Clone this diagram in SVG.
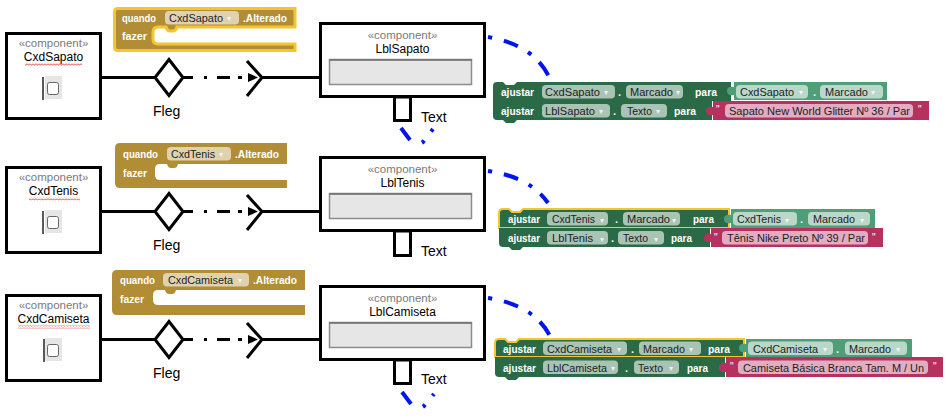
<svg xmlns="http://www.w3.org/2000/svg" width="946" height="418" viewBox="0 0 946 418">
<style>
.box{fill:#fff;stroke:#000;stroke-width:3}
.st{font-family:"Liberation Sans",Arial,sans-serif;font-size:11.5px;fill:#7a7a7a;text-anchor:middle}
.nm{font-family:"Liberation Sans",Arial,sans-serif;font-size:12px;fill:#000;text-anchor:middle}
.lbl{font-family:"Liberation Sans",Arial,sans-serif;font-size:14px;fill:#000}
.tb{fill:#e6e6e6;stroke:#8c8c8c;stroke-width:1.5}
.cbg{fill:#e6e6e6}
.cb{fill:#fff;stroke:#666;stroke-width:1}
.ln{stroke:#000;stroke-width:3;fill:none}
.dd{stroke:#000;stroke-width:3;fill:none;stroke-dasharray:10 11 3 10 13 8 4 6}
.blue{stroke:#0014f0;stroke-width:4;fill:none}
.bw{font-family:"Liberation Sans",Arial,sans-serif;font-weight:bold;font-size:11px;fill:#fff}
.pt{font-family:"Liberation Sans",Arial,sans-serif;font-size:11px;fill:#1e1e1e}
.ar{font-family:"DejaVu Sans",sans-serif;font-size:8px;fill:#fff;fill-opacity:.8}
.q{font-family:"Liberation Sans",Arial,sans-serif;font-size:10px;fill:#fff}
.brown{fill:#b18e35}
.dg{fill:#2b6a47}
.lg{fill:#4f9e78}
.pk{fill:#b5325f}
.sel{stroke:#f5c531;stroke-width:2}
.pdg{fill:#a9c3b5}
.plg{fill:#b9d8c9}
.ppk{fill:#e2adc0}
.pbr{fill:#e0d2ae}
</style>
<defs>
<pattern id="sq" width="3" height="3" patternUnits="userSpaceOnUse">
<path d="M0,0.5 L1.5,2.3 L3,0.5" fill="none" stroke="#e02020" stroke-width="0.8"/>
</pattern>
</defs>
<rect width="946" height="418" fill="#fff"/>

<!-- ===== Section 1 ===== -->
<g id="evtSapato">
<path class="brown" d="M118,8.5 H295 V27 H177 C176,30 175,31 173,31 H170 C168,31 167,30 166,27 H158 Q153,27 153,32 V39 Q153,44 158,44 H295 V50.5 H118 Q114.5,50.5 114.5,47 V12 Q114.5,8.5 118,8.5 Z" stroke="#f5c531" stroke-width="3"/>
<text class="bw" x="122" y="21.5" textLength="34" lengthAdjust="spacingAndGlyphs">quando</text>
<rect class="pbr" x="165" y="11" width="74" height="13.5" rx="4"/>
<text class="pt" x="169" y="21.5" textLength="54" lengthAdjust="spacingAndGlyphs">CxdSapato</text>
<text class="ar" x="227" y="21">▾</text>
<text class="bw" x="243" y="21.5" textLength="44" lengthAdjust="spacingAndGlyphs">.Alterado</text>
<text class="bw" x="122" y="40" textLength="25" lengthAdjust="spacingAndGlyphs">fazer</text>
</g>

<g id="CxdSapato">
<rect class="box" x="6.5" y="33.5" width="94" height="85"/>
<text class="st" x="53.5" y="47">«component»</text>
<text class="nm" x="53.5" y="61">CxdSapato</text>
<rect x="25" y="63" width="57" height="3" fill="url(#sq)"/>
<rect class="cbg" x="45" y="76" width="17" height="23"/>
<line x1="43" y1="77" x2="43" y2="100" stroke="#000" stroke-width="1.3"/>
<rect class="cb" x="47.5" y="82.5" width="11" height="12" rx="2"/>
</g>

<g id="LblSapato">
<rect class="box" x="394.5" y="97" width="16" height="23.5"/>
<rect class="box" x="320.5" y="23.5" width="164" height="73"/>
<text class="st" x="402.5" y="39">«component»</text>
<text class="nm" x="402.5" y="53">LblSapato</text>
<rect class="tb" x="329.5" y="59.5" width="142" height="25"/>
<line x1="329.5" y1="60" x2="471.5" y2="60" stroke="#6e6e6e" stroke-width="1.5"/>
<text class="lbl" x="421" y="122">Text</text>
</g>

<g id="setSapato">
<path class="dg" d="M497,82 H503 L506,85 H514 L517,82 H731 V101 H493 V86 Q493,82 497,82 Z"/>
<path class="dg" d="M493,101 H712 V120 H517 L514,123 H506 L503,120 H497 Q493,120 493,116 Z"/>
<path class="lg" d="M734,82 H887 V100 H734 V95 C729,96 727,94 727,91 C727,88 729,86 734,87 Z"/>
<path class="pk" d="M713,101 H929 V120 H713 V115 C708,116 706,114 706,111 C706,108 708,106 713,107 Z"/>
<text class="bw" x="501" y="95.5" textLength="33" lengthAdjust="spacingAndGlyphs">ajustar</text>
<rect class="pdg" x="542" y="85" width="73" height="13.5" rx="4"/>
<text class="pt" x="545" y="95.5" textLength="55" lengthAdjust="spacingAndGlyphs">CxdSapato</text>
<text class="ar" x="604" y="95">▾</text>
<text class="bw" x="618" y="95.5">.</text>
<rect class="pdg" x="626" y="85" width="57" height="13.5" rx="4"/>
<text class="pt" x="630" y="95.5" textLength="43" lengthAdjust="spacingAndGlyphs">Marcado</text>
<text class="ar" x="676" y="95">▾</text>
<text class="bw" x="695" y="95.5" textLength="22" lengthAdjust="spacingAndGlyphs">para</text>
<rect class="plg" x="736" y="85" width="72" height="13.5" rx="4"/>
<text class="pt" x="740" y="95.5" textLength="54" lengthAdjust="spacingAndGlyphs">CxdSapato</text>
<text class="ar" x="799" y="95">▾</text>
<text class="bw" x="813" y="95.5">.</text>
<rect class="plg" x="820" y="85" width="63" height="13.5" rx="4"/>
<text class="pt" x="825" y="95.5" textLength="43" lengthAdjust="spacingAndGlyphs">Marcado</text>
<text class="ar" x="871" y="95">▾</text>
<text class="bw" x="501" y="114.5" textLength="33" lengthAdjust="spacingAndGlyphs">ajustar</text>
<rect class="pdg" x="542" y="104" width="68" height="13.5" rx="4"/>
<text class="pt" x="545" y="114.5" textLength="50" lengthAdjust="spacingAndGlyphs">LblSapato</text>
<text class="ar" x="599" y="114">▾</text>
<text class="bw" x="613" y="114.5">.</text>
<rect class="pdg" x="621" y="104" width="46" height="13.5" rx="4"/>
<text class="pt" x="627" y="114.5" textLength="25" lengthAdjust="spacingAndGlyphs">Texto</text>
<text class="ar" x="656" y="114">▾</text>
<text class="bw" x="674" y="114.5" textLength="22" lengthAdjust="spacingAndGlyphs">para</text>
<text class="q" x="716" y="113">"</text>
<rect class="ppk" x="725" y="104" width="188" height="13.5" rx="4"/>
<text class="pt" x="729" y="114.5" textLength="181" lengthAdjust="spacingAndGlyphs">Sapato New World Glitter Nº 36 / Par</text>
<text class="q" x="918" y="113">"</text>
</g>

<!-- ===== Section 2 ===== -->
<g id="evtTenis">
<path class="brown" d="M120,143 H287 V164 H178 C177,167 176,168 174,168 H171 C169,168 168,167 167,164 H160 Q155,164 155,169 V175 Q155,180 160,180 H287 V188 H120 Q115,188 115,183 V148 Q115,143 120,143 Z"/>
<text class="bw" x="123" y="157.5" textLength="35" lengthAdjust="spacingAndGlyphs">quando</text>
<rect class="pbr" x="167" y="147" width="64" height="13.5" rx="4"/>
<text class="pt" x="171" y="157.5" textLength="44" lengthAdjust="spacingAndGlyphs">CxdTenis</text>
<text class="ar" x="219" y="157">▾</text>
<text class="bw" x="235" y="157.5" textLength="44" lengthAdjust="spacingAndGlyphs">.Alterado</text>
<text class="bw" x="123" y="176.5" textLength="24" lengthAdjust="spacingAndGlyphs">fazer</text>
</g>

<g id="CxdTenis">
<rect class="box" x="6.5" y="167.5" width="94" height="85"/>
<text class="st" x="53.5" y="181">«component»</text>
<text class="nm" x="53.5" y="195">CxdTenis</text>
<rect x="29" y="197.5" width="51" height="3" fill="url(#sq)"/>
<rect class="cbg" x="45" y="210" width="17" height="23"/>
<line x1="43" y1="211" x2="43" y2="234" stroke="#000" stroke-width="1.3"/>
<rect class="cb" x="47.5" y="216.5" width="11" height="12" rx="2"/>
</g>

<g id="LblTenis">
<rect class="box" x="394.5" y="231" width="16" height="24.5"/>
<rect class="box" x="320.5" y="157.5" width="164" height="73"/>
<text class="st" x="402.5" y="173">«component»</text>
<text class="nm" x="402.5" y="187">LblTenis</text>
<rect class="tb" x="329.5" y="193.5" width="142" height="25"/>
<line x1="329.5" y1="194" x2="471.5" y2="194" stroke="#6e6e6e" stroke-width="1.5"/>
<text class="lbl" x="421" y="256">Text</text>
</g>

<g id="setTenis">
<path class="dg sel" d="M503,209 H509 L512,212 H520 L523,209 H729 V228 H499 V213 Q499,209 503,209 Z"/>
<path class="dg" d="M499,228 H710 V247 H523 L520,250 H512 L509,247 H503 Q499,247 499,243 Z"/>
<path class="lg" d="M731,209 H875 V228 H731 V223 C726,224 724,222 724,219 C724,216 726,214 731,215 Z"/>
<path class="pk" d="M711,228 H883 V247 H711 V242 C706,243 704,241 704,238 C704,235 706,233 711,234 Z"/>
<text class="bw" x="508" y="223" textLength="32" lengthAdjust="spacingAndGlyphs">ajustar</text>
<rect class="pdg" x="547" y="212" width="61" height="13.5" rx="4"/>
<text class="pt" x="552" y="223" textLength="43" lengthAdjust="spacingAndGlyphs">CxdTenis</text>
<text class="ar" x="600" y="222.5">▾</text>
<text class="bw" x="615" y="223">.</text>
<rect class="pdg" x="623" y="212" width="57" height="13.5" rx="4"/>
<text class="pt" x="627" y="223" textLength="43" lengthAdjust="spacingAndGlyphs">Marcado</text>
<text class="ar" x="672" y="222.5">▾</text>
<text class="bw" x="693" y="223" textLength="21" lengthAdjust="spacingAndGlyphs">para</text>
<rect class="plg" x="733" y="212" width="64" height="13.5" rx="4"/>
<text class="pt" x="737" y="223" textLength="44" lengthAdjust="spacingAndGlyphs">CxdTenis</text>
<text class="ar" x="785" y="222.5">▾</text>
<text class="bw" x="800" y="223">.</text>
<rect class="plg" x="808" y="212" width="62" height="13.5" rx="4"/>
<text class="pt" x="813" y="223" textLength="42" lengthAdjust="spacingAndGlyphs">Marcado</text>
<text class="ar" x="860" y="222.5">▾</text>
<text class="bw" x="508" y="242" textLength="32" lengthAdjust="spacingAndGlyphs">ajustar</text>
<rect class="pdg" x="547" y="231" width="61" height="13.5" rx="4"/>
<text class="pt" x="552" y="242" textLength="41" lengthAdjust="spacingAndGlyphs">LblTenis</text>
<text class="ar" x="600" y="241.5">▾</text>
<text class="bw" x="611" y="242">.</text>
<rect class="pdg" x="618" y="231" width="46" height="13.5" rx="4"/>
<text class="pt" x="623" y="242" textLength="25" lengthAdjust="spacingAndGlyphs">Texto</text>
<text class="ar" x="654" y="241.5">▾</text>
<text class="bw" x="671" y="242" textLength="21" lengthAdjust="spacingAndGlyphs">para</text>
<text class="q" x="714" y="241">"</text>
<rect class="ppk" x="722" y="231" width="146" height="13.5" rx="4"/>
<text class="pt" x="727" y="242" textLength="138" lengthAdjust="spacingAndGlyphs">Tênis Nike Preto Nº 39 / Par</text>
<text class="q" x="872" y="241">"</text>
</g>

<!-- ===== Section 3 ===== -->
<g id="evtCamiseta">
<path class="brown" d="M117,270 H305 V290 H176 C175,293 174,294 172,294 H169 C167,294 166,293 165,290 H158 Q153,290 153,295 V300 Q153,305 158,305 H305 V315 H117 Q112,315 112,310 V275 Q112,270 117,270 Z"/>
<text class="bw" x="120" y="283.5" textLength="35" lengthAdjust="spacingAndGlyphs">quando</text>
<rect class="pbr" x="163" y="273" width="86" height="13.5" rx="4"/>
<text class="pt" x="168" y="283.5" textLength="65" lengthAdjust="spacingAndGlyphs">CxdCamiseta</text>
<text class="ar" x="238" y="283">▾</text>
<text class="bw" x="253" y="283.5" textLength="44" lengthAdjust="spacingAndGlyphs">.Alterado</text>
<text class="bw" x="120" y="302.5" textLength="24" lengthAdjust="spacingAndGlyphs">fazer</text>
</g>

<g id="CxdCamiseta">
<rect class="box" x="6.5" y="295.5" width="94" height="85"/>
<text class="st" x="53.5" y="309">«component»</text>
<text class="nm" x="53.5" y="323">CxdCamiseta</text>
<rect x="18" y="325.5" width="72" height="3" fill="url(#sq)"/>
<rect class="cbg" x="45" y="338" width="17" height="23"/>
<line x1="44" y1="339" x2="44" y2="362" stroke="#000" stroke-width="1.3"/>
<rect class="cb" x="47.5" y="344.5" width="11" height="12" rx="2"/>
</g>

<g id="LblCamiseta">
<rect class="box" x="394.5" y="360" width="16" height="23.5"/>
<rect class="box" x="320.5" y="286.5" width="164" height="73"/>
<text class="st" x="402.5" y="302">«component»</text>
<text class="nm" x="402.5" y="316">LblCamiseta</text>
<rect class="tb" x="329.5" y="322.5" width="142" height="25"/>
<line x1="329.5" y1="323" x2="471.5" y2="323" stroke="#6e6e6e" stroke-width="1.5"/>
<text class="lbl" x="421" y="384">Text</text>
</g>

<g id="setCamiseta">
<path class="dg sel" d="M499,339 H505 L508,342 H516 L519,339 H744 V357 H495 V343 Q495,339 499,339 Z"/>
<path class="dg" d="M495,357 H725 V377 H519 L516,380 H508 L505,377 H499 Q495,377 495,373 Z"/>
<path class="lg" d="M746,339 H912 V357 H746 V352 C741,353 739,351 739,348 C739,345 741,343 746,344 Z"/>
<path class="pk" d="M726,357 H943 V377 H726 V372 C721,373 719,371 719,367 C719,364 721,362 726,363 Z"/>
<text class="bw" x="503" y="352.5" textLength="33" lengthAdjust="spacingAndGlyphs">ajustar</text>
<rect class="pdg" x="543" y="341.5" width="84" height="13.5" rx="4"/>
<text class="pt" x="547" y="352.5" textLength="65" lengthAdjust="spacingAndGlyphs">CxdCamiseta</text>
<text class="ar" x="617" y="352">▾</text>
<text class="bw" x="631" y="352.5">.</text>
<rect class="pdg" x="639" y="341.5" width="62" height="13.5" rx="4"/>
<text class="pt" x="643" y="352.5" textLength="42" lengthAdjust="spacingAndGlyphs">Marcado</text>
<text class="ar" x="689" y="352">▾</text>
<text class="bw" x="708" y="352.5" textLength="22" lengthAdjust="spacingAndGlyphs">para</text>
<rect class="plg" x="748" y="341.5" width="85" height="13.5" rx="4"/>
<text class="pt" x="753" y="352.5" textLength="65" lengthAdjust="spacingAndGlyphs">CxdCamiseta</text>
<text class="ar" x="823" y="352">▾</text>
<text class="bw" x="836" y="352.5">.</text>
<rect class="plg" x="845" y="341.5" width="62" height="13.5" rx="4"/>
<text class="pt" x="849" y="352.5" textLength="42" lengthAdjust="spacingAndGlyphs">Marcado</text>
<text class="ar" x="896" y="352">▾</text>
<text class="bw" x="503" y="371.5" textLength="33" lengthAdjust="spacingAndGlyphs">ajustar</text>
<rect class="pdg" x="543" y="360.5" width="75" height="13.5" rx="4"/>
<text class="pt" x="547" y="371.5" textLength="60" lengthAdjust="spacingAndGlyphs">LblCamiseta</text>
<text class="ar" x="611" y="371">▾</text>
<text class="bw" x="625" y="371.5">.</text>
<rect class="pdg" x="634" y="360.5" width="45" height="13.5" rx="4"/>
<text class="pt" x="638" y="371.5" textLength="25" lengthAdjust="spacingAndGlyphs">Texto</text>
<text class="ar" x="669" y="371">▾</text>
<text class="bw" x="687" y="371.5" textLength="21" lengthAdjust="spacingAndGlyphs">para</text>
<text class="q" x="730" y="370">"</text>
<rect class="ppk" x="738" y="360.5" width="190" height="13.5" rx="4"/>
<text class="pt" x="743" y="371.5" textLength="181" lengthAdjust="spacingAndGlyphs">Camiseta Básica Branca Tam. M / Un</text>
<text class="q" x="933" y="370">"</text>
</g>

<!-- ===== Connectors ===== -->
<g id="connectors">
<g id="fleg1">
<line class="ln" x1="102" y1="77.5" x2="155" y2="77.5"/>
<polygon class="ln" points="169,59.5 183,77.5 169,95.5 155,77.5"/>
<line class="dd" x1="183" y1="77.5" x2="248" y2="77.5"/>
<polygon points="248,73 258,77.5 248,82" fill="#000"/>
<polyline class="ln" points="247,61 262,77.5 247,96"/>
<line class="ln" x1="262" y1="77.5" x2="320" y2="77.5"/>
<text class="lbl" x="153" y="116">Fleg</text>
</g>
<g id="fleg2">
<line class="ln" x1="102" y1="211.5" x2="155" y2="211.5"/>
<polygon class="ln" points="169,193.5 183,211.5 169,229.5 155,211.5"/>
<line class="dd" x1="183" y1="211.5" x2="248" y2="211.5"/>
<polygon points="248,207 258,211.5 248,216" fill="#000"/>
<polyline class="ln" points="247,195 262,211.5 247,230"/>
<line class="ln" x1="262" y1="211.5" x2="320" y2="211.5"/>
<text class="lbl" x="153" y="250">Fleg</text>
</g>
<g id="fleg3">
<line class="ln" x1="102" y1="339.5" x2="155" y2="339.5"/>
<polygon class="ln" points="169,321.5 183,339.5 169,357.5 155,339.5"/>
<line class="dd" x1="183" y1="339.5" x2="248" y2="339.5"/>
<polygon points="248,335 258,339.5 248,344" fill="#000"/>
<polyline class="ln" points="247,323 262,339.5 247,358"/>
<line class="ln" x1="262" y1="339.5" x2="320" y2="339.5"/>
<text class="lbl" x="153" y="378">Fleg</text>
</g>
<path class="blue" stroke-dasharray="4 12 15 12 4 11 16 100" d="M488,37 Q535,45 550,79"/>
<path class="blue" stroke-dasharray="15 13.5 3 11.5 4 100" d="M401,128 L410,140 Q416,147 423,142 L433,129"/>
<path class="blue" stroke-dasharray="4 12 15 12 4 11 16 100" d="M488,171 Q530,177 548,203"/>
<path class="blue" stroke-dasharray="4 12 15 12 4 11 16 100" d="M488,298 Q534,305 550,336"/>
<path class="blue" stroke-dasharray="15 13.5 3 11.5 4 100" d="M402,392 L411,404 Q417,411 424,406 L434,394"/>
</g>
</svg>
